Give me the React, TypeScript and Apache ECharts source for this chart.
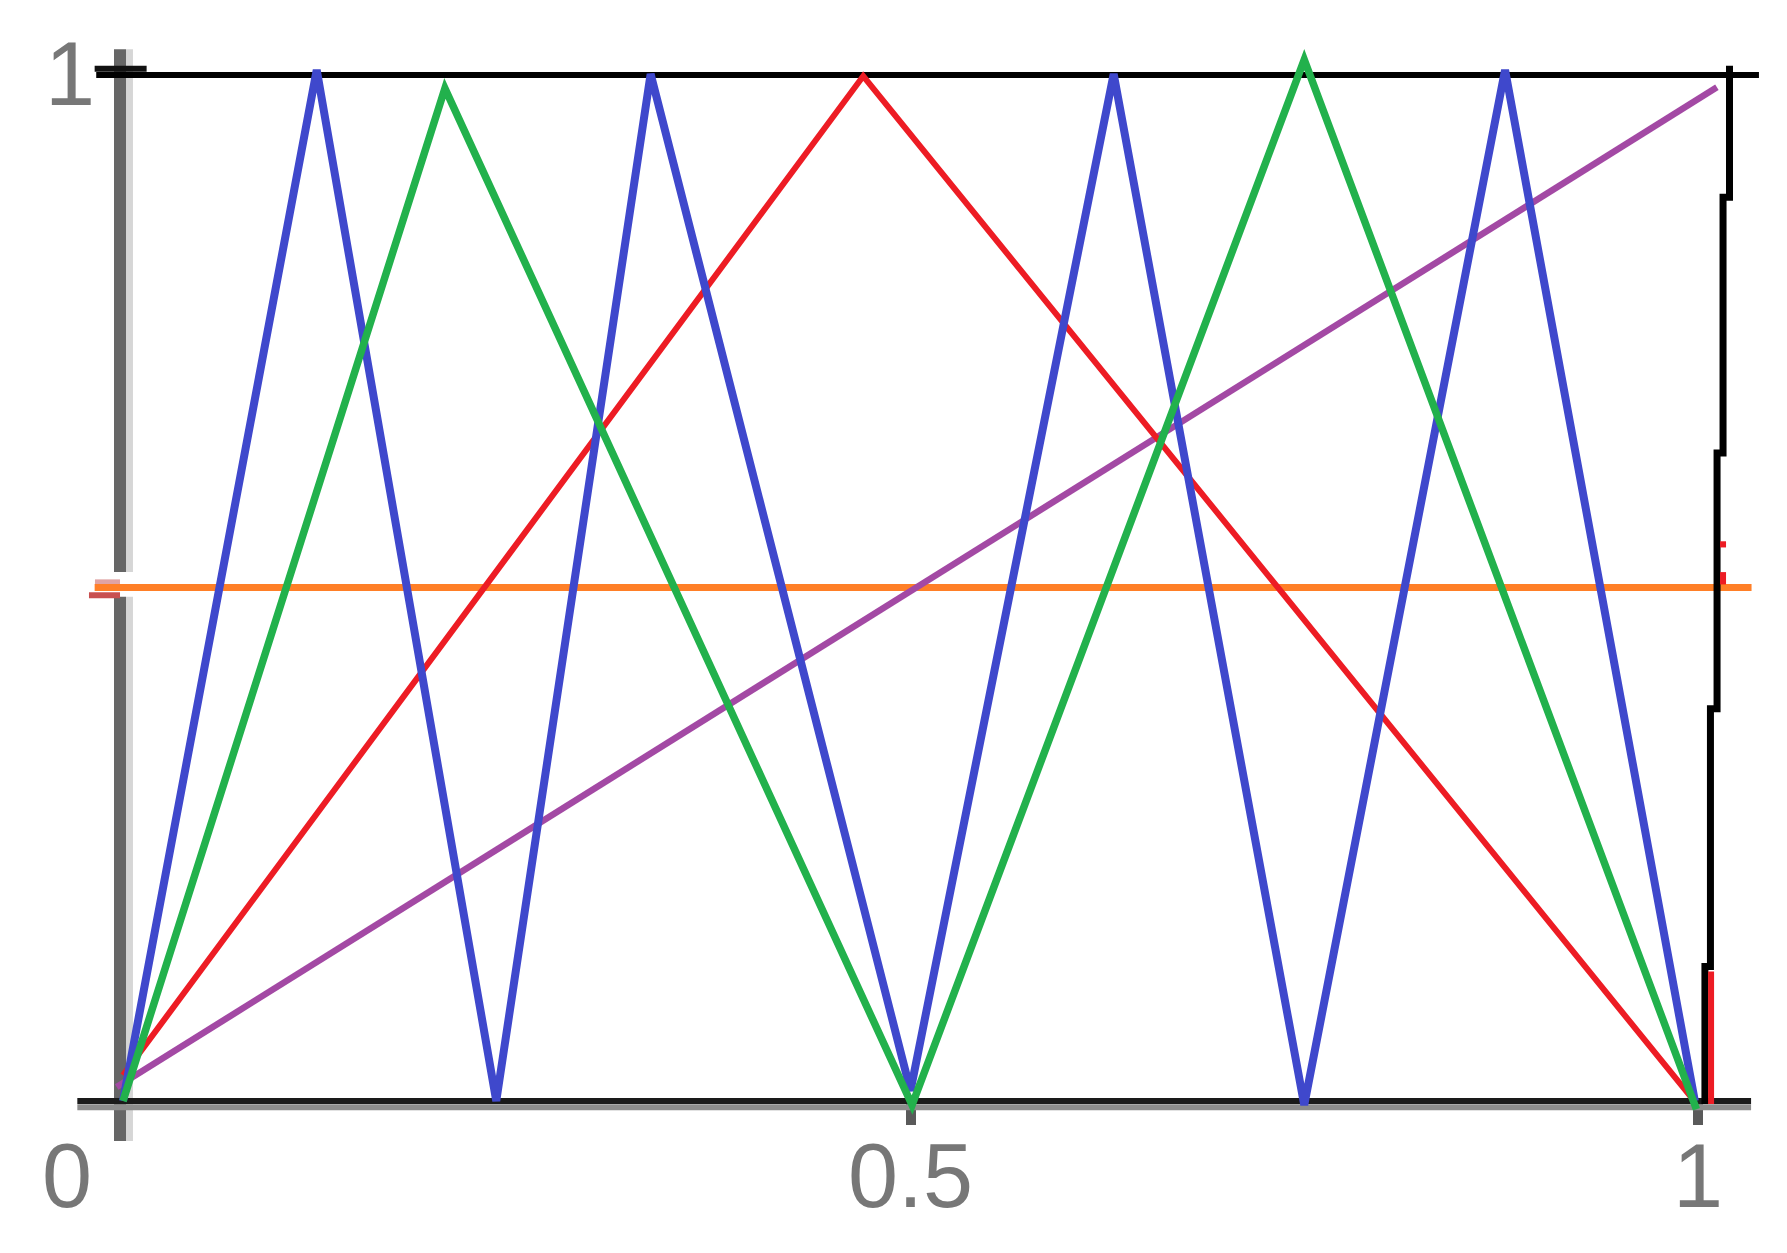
import React, { useEffect, useRef } from "react";
import * as echarts from "echarts";

// ---- data (x in [0,1], y in [0,1]) ----
const xTickValues = [0, 0.5, 1];
const xTickLabels = ["0", "0.5", "1"];
const yTickValues = [1];
const yTickLabels = ["1"];

const blueWave = [
  [0, 0], [0.123, 1.004], [0.237, 0], [0.335, 1.0], [0.5, 0.01],
  [0.629, 1.0], [0.75, -0.004], [0.8775, 1.004], [0.998, 0],
];
const greenWave = [
  [0, 0], [0.2044, 0.986], [0.501, -0.004], [0.75, 1.014], [0.999, -0.008],
];
const redTent = [[0, 0.025], [0.47, 0.998], [0.996, 0.003]];
const purpleDiag = [[-0.004, 0.0136], [1.012, 0.987]];
const orangeLevel = [[-0.018, 0.5], [1.034, 0.5]];
const blackStairs = [
  [1.02, 1.008], [1.02, 0.88], [1.0159, 0.88], [1.0159, 0.631],
  [1.0121, 0.631], [1.0121, 0.382], [1.0079, 0.382], [1.0079, 0.131],
  [1.0044, 0.131], [1.0044, -0.003],
];
const redBar = [[1.0083, 0.126], [1.0083, -0.003]];
const redMarkA = [[1.0159, 0.515], [1.0159, 0.503]];
const redMarkB = [[1.0159, 0.545], [1.0159, 0.539]];
const topRule = [[-0.017, 0.999], [1.0387, 0.999]];
const topTick = [[-0.018, 1.005], [0.015, 1.005]];
const bottomRule = [[-0.029, 0], [1.0337, 0]];
const bottomShade = [[-0.029, -0.006], [1.0337, -0.006]];
const leftBarUpper = [[-0.0019, 1.024], [-0.0019, 0.515]];
const leftBarLower = [[-0.0019, 0.491], [-0.0019, -0.039]];
const leftLightUpper = [[0.0041, 1.024], [0.0041, 0.515]];
const leftLightLower = [[0.0041, 0.491], [0.0041, -0.039]];
const pinkTick = [[-0.0178, 0.505], [-0.0019, 0.505]];
const redTick = [[-0.0216, 0.4925], [-0.0019, 0.4925]];

// axis extents (padded so nothing is clipped)
const X_MIN = -0.05, X_MAX = 1.05;
const Y_MIN = -0.05, Y_MAX = 1.05;

const LABEL_COLOR = "#777777";
const FONT = "'Liberation Sans', Arial, sans-serif";

function seg(data: number[][], color: string, width: number) {
  return {
    type: "line",
    data,
    symbol: "none",
    clip: false,
    silent: true,
    lineStyle: { color, width, cap: "butt", join: "miter" },
  };
}

export default function App() {
  const ref = useRef<HTMLDivElement>(null);
  useEffect(() => {
    if (!ref.current) return;
    const chart = echarts.init(ref.current, null, { renderer: "svg" });
    // plot: x 0 -> 123px, x 1 -> 1698px ; y 0 -> 1101px, y 1 -> 74px
    const pxX = 1575, pxY = 1027;
    const gLeft = 123 + X_MIN * pxX;
    const gRight = 1787 - (1698 + (X_MAX - 1) * pxX);
    const gTop = 74 - (Y_MAX - 1) * pxY;
    const gBottom = 1253 - (1101 - Y_MIN * pxY);
    chart.setOption({
      animation: false,
      backgroundColor: "#ffffff",
      grid: { left: gLeft, right: gRight, top: gTop, bottom: gBottom, containLabel: false, outerBoundsMode: "none" },
      xAxis: {
        type: "value",
        min: X_MIN,
        max: X_MAX,
        axisLine: { show: false, onZero: false },
        offset: Y_MIN * pxY,
        splitLine: { show: false },
        axisTick: {
          show: true,
          customValues: xTickValues,
          length: 24,
          lineStyle: { color: "#5a5a5a", width: 10 },
        },
        axisLabel: {
          customValues: xTickValues,
          margin: 30,
          fontSize: 90,
          fontFamily: FONT,
          color: LABEL_COLOR,
          formatter: (v: number) => {
            const i = xTickValues.indexOf(v);
            if (i < 0) return "";
            if (v === 0) return "{z|" + xTickLabels[i] + "}";
            return xTickLabels[i];
          },
          rich: {
            z: { padding: [0, 112, 0, 0], fontSize: 90, fontFamily: FONT, color: LABEL_COLOR },
          },
        },
      },
      yAxis: {
        type: "value",
        min: Y_MIN,
        max: Y_MAX,
        axisLine: { show: false, onZero: false },
        offset: X_MIN * pxX,
        splitLine: { show: false },
        axisTick: { show: false },
        axisLabel: {
          customValues: yTickValues,
          margin: 28,
          padding: [0, 0, 12, 0],
          fontSize: 90,
          fontFamily: FONT,
          color: LABEL_COLOR,
          formatter: (v: number) => {
            const i = yTickValues.indexOf(v);
            return i < 0 ? "" : yTickLabels[i];
          },
        },
      },
      series: [
        seg(leftLightUpper, "#d6d6d6", 7),
        seg(leftLightLower, "#d6d6d6", 7),
        seg(leftBarUpper, "#666666", 12),
        seg(leftBarLower, "#666666", 12),
        seg(pinkTick, "#e0a3a3", 6),
        seg(redTick, "#c85050", 6),
        seg(bottomShade, "#8c8c8c", 6),
        seg(bottomRule, "#1a1a1a", 6),
        seg(topRule, "#000000", 6),
        seg(topTick, "#111111", 6),
        seg(orangeLevel, "#FF7F27", 7),
        seg(purpleDiag, "#A349A4", 6.5),
        seg(redTent, "#ED1C24", 6),
        seg(blueWave, "#3F48CC", 8),
        seg(greenWave, "#22B14C", 7.5),
        seg(blackStairs, "#000000", 7),
        seg(redBar, "#ED1C24", 6),
        seg(redMarkA, "#ED1C24", 6),
        seg(redMarkB, "#ED1C24", 6),
      ],
    });
    return () => chart.dispose();
  }, []);
  return (
    <div
      ref={ref}
      style={{ position: "absolute", left: 0, top: 0, width: 1787, height: 1253 }}
    />
  );
}
